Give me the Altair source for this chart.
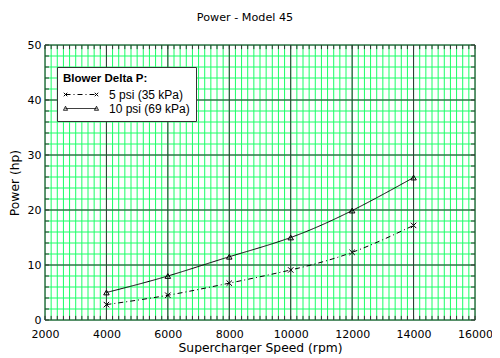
import altair as alt
import pandas as pd

speed = [4000, 6000, 8000, 10000, 12000, 14000]
power_5psi = [2.8, 4.5, 6.7, 9.1, 12.3, 17.2]
power_10psi = [5.0, 8.0, 11.5, 15.0, 19.9, 25.9]
series = ["5 psi (35 kPa)", "10 psi (69 kPa)"]

x_minor = list(range(2000, 16001, 200))
x_major = list(range(2000, 16001, 2000))
y_minor = list(range(0, 51, 2))
y_major = list(range(0, 51, 10))

FONT = "Liberation Sans"
AFONT = "DejaVu Sans"
GREEN = "#1aff66"
DARK = "#333333"

df = pd.DataFrame({
    "speed": speed * 2,
    "power": power_5psi + power_10psi,
    "series": [series[0]] * len(speed) + [series[1]] * len(speed),
})
xm = pd.DataFrame({"v": x_minor})
xM = pd.DataFrame({"v": x_major})
ym = pd.DataFrame({"v": y_minor})
yM = pd.DataFrame({"v": y_major})

xs = alt.Scale(domain=[2000, 16000], nice=False, zero=False)
ys = alt.Scale(domain=[0, 50], nice=False)

x_axis = alt.Axis(values=x_major, format="d", grid=False, ticks=False, domain=False,
                  labelFont=AFONT, labelFontSize=11, labelColor="black", labelPadding=8,
                  title="Supercharger Speed (rpm)", titleFont=AFONT, titleFontSize=12.3,
                  titleFontWeight="normal", titleColor="black", titlePadding=2,
                  labelFlush=False)
y_axis = alt.Axis(values=y_major, format="d", grid=False, ticks=False, domain=False,
                  labelFont=AFONT, labelFontSize=11, labelColor="black", labelPadding=4,
                  title="Power (hp)", titleFont=AFONT, titleFontSize=12.3,
                  titleFontWeight="normal", titleColor="black", titlePadding=6)


def X(f):
    return alt.X(f, scale=xs, axis=x_axis)


def Y(f):
    return alt.Y(f, scale=ys, axis=y_axis)


grid_xm = alt.Chart(xm).mark_rule(color=GREEN, strokeWidth=1).encode(x=X("v:Q"))
grid_ym = alt.Chart(ym).mark_rule(color=GREEN, strokeWidth=1).encode(y=Y("v:Q"))
grid_xM = alt.Chart(xM).mark_rule(color=DARK, strokeWidth=1).encode(x=X("v:Q"))
grid_yM = alt.Chart(yM).mark_rule(color=DARK, strokeWidth=1).encode(y=Y("v:Q"))

tick_b = alt.Chart(xm).transform_calculate(a="0", b="0.75").mark_rule(color=DARK).encode(
    x=X("v:Q"), y=Y("a:Q"), y2="b:Q")
tick_t = alt.Chart(xm).transform_calculate(a="49.25", b="50").mark_rule(color=DARK).encode(
    x=X("v:Q"), y=Y("a:Q"), y2="b:Q")
tick_l = alt.Chart(ym).transform_calculate(a="2000", b="2130").mark_rule(color=DARK).encode(
    y=Y("v:Q"), x=X("a:Q"), x2="b:Q")
tick_r = alt.Chart(ym).transform_calculate(a="15870", b="16000").mark_rule(color=DARK).encode(
    y=Y("v:Q"), x=X("a:Q"), x2="b:Q")

dash_scale = alt.Scale(domain=series, range=[[5, 3, 1, 3], [1, 0]])

path_x = ("M-3.1,0L3.1,0M-3.45,-0.35L-2.75,0.35M-3.45,0.35L-2.75,-0.35"
          "M2.75,-0.35L3.45,0.35M2.75,0.35L3.45,-0.35")
path_t = "M-3.1,0L3.1,0M-3.5,0.35L-3.1,-0.45L-2.7,0.35ZM2.7,0.35L3.1,-0.45L3.5,0.35Z"

legend = alt.Legend(
    title="Blower Delta P:", orient="none", legendX=12, legendY=22, direction="vertical",
    fillColor="white", strokeColor=DARK, padding=6,
    titleFont=FONT, titleFontSize=11.5, titleFontWeight="bold", titleColor="black",
    titlePadding=4,
    labelFont=FONT, labelFontSize=12, labelColor="black",
    symbolSize=100, symbolStrokeWidth=1, symbolStrokeColor="black",
    symbolOffset=12, labelOffset=22, rowPadding=2,
)

lines = alt.Chart(df).mark_line(interpolate="natural", color="black", strokeWidth=1).encode(
    x=X("speed:Q"), y=Y("power:Q"),
    strokeDash=alt.StrokeDash("series:N", scale=dash_scale, legend=legend),
)

pts_x = alt.Chart(df).transform_filter(alt.datum.series == series[0]).mark_point(
    shape="M-1,-1L1,1M-1,1L1,-1", filled=False, color="black", size=30, strokeWidth=1, opacity=1
).encode(x=X("speed:Q"), y=Y("power:Q"))
pts_t = alt.Chart(df).transform_filter(alt.datum.series == series[1]).mark_point(
    shape="triangle-up", filled=False, color="black", size=30, strokeWidth=1, opacity=1
).encode(x=X("speed:Q"), y=Y("power:Q"))

legend_layer = alt.Chart(df).transform_filter("datum.speed < 0").mark_point(
    filled=False, color="black", opacity=1
).encode(
    x=X("speed:Q"), y=Y("power:Q"),
    shape=alt.Shape("series:N", scale=alt.Scale(domain=series, range=[path_x, path_t]), legend=legend),
    strokeDash=alt.StrokeDash("series:N", scale=dash_scale, legend=legend),
)

chart = alt.layer(
    grid_xm, grid_ym, grid_xM, grid_yM, tick_b, tick_t, tick_l, tick_r, lines, pts_x, pts_t, legend_layer
).properties(
    width=430, height=275,
    title=alt.TitleParams("Power - Model 45", font=AFONT, fontSize=11.2, fontWeight="normal",
                          color="black", anchor="middle", offset=16, dx=-15),
    autosize=alt.AutoSizeParams(type="none"),
    padding={"left": 37, "top": 37, "right": 17, "bottom": 34},
).configure_view(stroke=DARK, strokeWidth=1).configure(background="white")

chart.save("out.html", embed_options={"renderer": "svg", "actions": False})
